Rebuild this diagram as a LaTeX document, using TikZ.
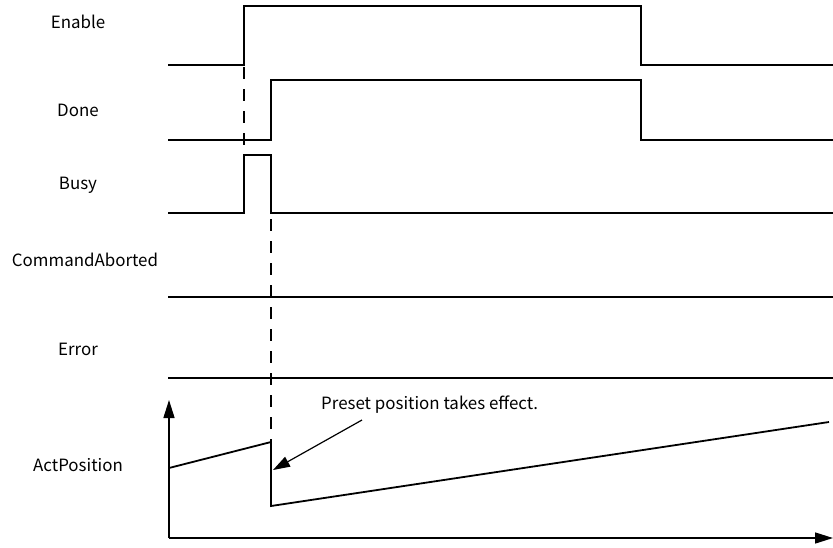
\documentclass[tikz,border=0pt]{standalone}
\usepackage{fontspec}
\setmainfont{Noto Sans CJK SC}
\usetikzlibrary{arrows.meta}
\begin{document}
\begin{tikzpicture}[x=1pt,y=-1pt,
  sig/.style={line width=1.8pt,line join=miter},
  lbl/.style={font=\fontsize{16.9}{20}\selectfont,anchor=center,inner sep=0pt},
  dsh/.style={line width=1.2pt,dash pattern=on 12pt off 10pt},
  axis/.style={line width=1.5pt,-{Triangle[length=18pt,width=11pt]}}]
\useasboundingbox (0,0) rectangle (833,547);
% labels
\node[lbl] (lEn) at (78,22) {Enable};
\node[lbl] (lDo) at (78,110) {Done};
\node[lbl] (lBu) at (78,185) {Busy};
\node[lbl] (lCA) at (85,260) {CommandAborted};
\node[lbl] (lEr) at (78,349) {Error};
\node[lbl] (lAP) at (78,465) {ActPosition};
% coordinates
\coordinate (e0) at (168,65);
\coordinate (e1) at (244,65);
\coordinate (e2) at (244,6);
\coordinate (e3) at (641,6);
\coordinate (e4) at (641,65);
\coordinate (e5) at (833,65);
\coordinate (d0) at (168,140);
\coordinate (d1) at (271,140);
\coordinate (d2) at (271,80);
\coordinate (d3) at (641,80);
\coordinate (d4) at (641,140);
\coordinate (d5) at (833,140);
\coordinate (b0) at (168,213);
\coordinate (b1) at (244,213);
\coordinate (b2) at (244,155);
\coordinate (b3) at (271,155);
\coordinate (b4) at (271,213);
\coordinate (b5) at (833,213);
\coordinate (c0) at (168,297);
\coordinate (c1) at (833,297);
\coordinate (r0) at (168,378);
\coordinate (r1) at (833,378);
\coordinate (o) at (169,538);
\coordinate (ytop) at (169,400);
\coordinate (xend) at (833,538);
\coordinate (p0) at (169,468);
\coordinate (p1) at (271,442);
\coordinate (p2) at (271,506);
\coordinate (p3) at (829,422);
% signals
\draw[sig] (e0) -- (e1) -- (e2) -- (e3) -- (e4) -- (e5);
\draw[sig] (d0) -- (d1) -- (d2) -- (d3) -- (d4) -- (d5);
\draw[sig] (b0) -- (b1) -- (b2) -- (b3) -- (b4) -- (b5);
\draw[sig] (c0) -- (c1);
\draw[sig] (r0) -- (r1);
% dashed guides
\draw[dsh] (e1) ++(0,2) -- (b2);
\draw[dsh] (b4) ++(0,6) -- (p1);
% axes
\draw[axis] (o) -- (ytop);
\draw[axis] (o) -- (xend);
% position
\draw[sig] (p0) -- (p1) -- (p2) -- (p3);
% annotation
\node[lbl,anchor=west] (note) at (321,405) {Preset position takes effect.};
\coordinate (aStart) at (362,420);
\coordinate (aEnd) at (273,470);
\draw[line width=1.2pt,-{Triangle[length=17pt,width=11pt]}] (aStart) -- (aEnd);
\end{tikzpicture}
\end{document}
